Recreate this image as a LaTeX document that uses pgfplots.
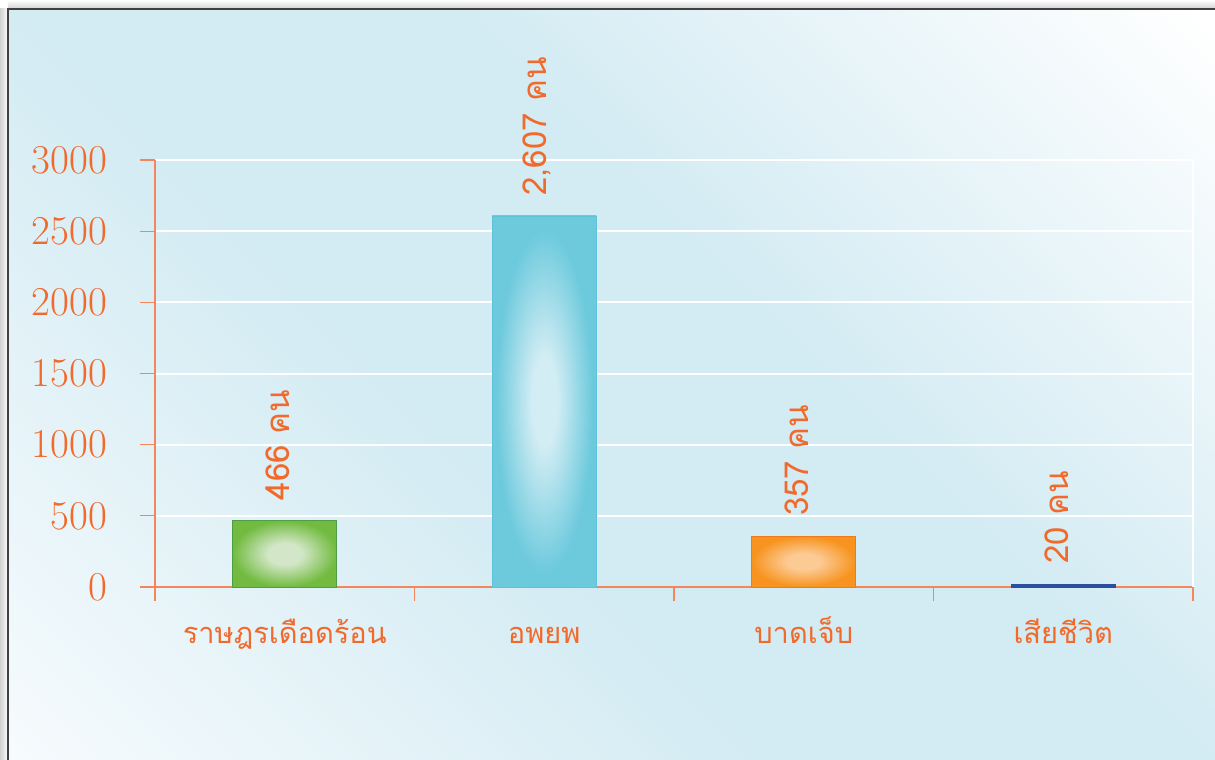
\documentclass[border=0pt]{standalone}
\usepackage{fontspec}
\usepackage{pgfplots}
\pgfplotsset{compat=1.18}
\newfontfamily\thaifont[Script=Thai]{Loma}
\definecolor{labcol}{HTML}{F26A2B}
\definecolor{axcol}{HTML}{F3875B}
\definecolor{bgblue}{HTML}{D3EBF3}
\definecolor{bgwhite}{HTML}{F6FBFD}
\definecolor{gedge}{HTML}{72BB40}
\definecolor{gcen}{HTML}{D3E7C8}
\definecolor{gbord}{HTML}{4E9E48}
\definecolor{bedge}{HTML}{6DCADD}
\definecolor{bcen}{HTML}{D3EDF4}
\definecolor{bbord}{HTML}{5CC3DA}
\definecolor{oedge}{HTML}{F7931E}
\definecolor{ocen}{HTML}{FCCA93}
\definecolor{obord}{HTML}{EE7A1B}
\definecolor{dblue}{HTML}{2C4E9E}
\pgfdeclareverticalshading{bgshade}{100bp}{color(0bp)=(bgwhite); color(15bp)=(bgwhite); color(42bp)=(bgblue); color(58bp)=(bgblue); color(85bp)=(white); color(100bp)=(white)}
\pgfdeclareradialshading{gsh}{\pgfpointorigin}{color(0bp)=(gcen); color(8bp)=(gcen); color(25bp)=(gedge); color(50bp)=(gedge)}
\pgfdeclareradialshading{bsh}{\pgfpointorigin}{color(0bp)=(bcen); color(6bp)=(bcen); color(23bp)=(bedge); color(50bp)=(bedge)}
\pgfdeclareradialshading{osh}{\pgfpointorigin}{color(0bp)=(ocen); color(8bp)=(ocen); color(25bp)=(oedge); color(50bp)=(oedge)}
\begin{document}
\begin{tikzpicture}
% background
\fill[white] (-77.5pt,-86.5pt) rectangle (530pt,293.5pt);
\shade[left color=black!18, right color=white] (-77.5pt,-86.5pt) rectangle (-73.5pt,289pt);
\shade[bottom color=black!18, top color=white] (-73.5pt,289pt) rectangle (530pt,293.5pt);
\shade[shading=bgshade, shading angle=-45] (-73.5pt,-86.5pt) rectangle (530pt,289pt);
\draw[line width=1.1pt, black!75] (-73.5pt,-90pt) -- (-73.5pt,289pt) -- (535pt,289pt);
\begin{axis}[
  at={(0,0)}, anchor=south west,
  width=519pt, height=213.5pt, scale only axis,
  xmin=-0.5, xmax=3.5, ymin=0, ymax=3000,
  axis lines=left,
  axis line style={axcol, line width=0.6pt, -},
  ytick={0,500,...,3000},
  xtick={0,1,2,3},
  xticklabels={ราษฎรเดือดร้อน, อพยพ, บาดเจ็บ, เสียชีวิต},
  minor xtick={-0.5,0.5,1.5,2.5,3.5},
  tick align=outside,
  major tick length=7.5pt, minor tick length=7pt,
  tick style={axcol, line width=0.6pt},
  major x tick style={draw=none},
  ymajorgrids, grid style={white, line width=1pt},
  scaled y ticks=false,
  /pgf/number format/assume math mode=true,
  yticklabel style={font=\fontsize{20.5}{20.5}\selectfont, text=labcol, /pgf/number format/1000 sep={}, xshift=-13pt},
  xticklabel style={font=\thaifont\fontsize{14.5}{14.5}\selectfont, text=labcol, anchor=base, yshift=-20.5pt},
  every node near coord/.append style={rotate=90, anchor=west, font=\thaifont\fontsize{16.5}{16.5}\selectfont, text=labcol, inner xsep=10pt, yshift=3.5pt},
  clip=false,
]
\draw[white, line width=1pt] (rel axis cs:1,0) -- (rel axis cs:1,1);
\addplot[ybar, bar width=52pt, bar shift=0pt, draw=gbord, shade, shading=gsh, nodes near coords={466 คน}] coordinates {(0,466)};
\addplot[ybar, bar width=52pt, bar shift=0pt, draw=bbord, shade, shading=bsh, nodes near coords={2,607 คน}] coordinates {(1,2607)};
\addplot[ybar, bar width=52pt, bar shift=0pt, draw=obord, shade, shading=osh, nodes near coords={357 คน}] coordinates {(2,357)};
\addplot[ybar, bar width=52pt, bar shift=0pt, draw=dblue, fill=dblue, nodes near coords={20 คน}] coordinates {(3,20)};
\end{axis}
\pgfresetboundingbox
\useasboundingbox (-77.5pt,-86.5pt) rectangle (530pt,293.5pt);
\end{tikzpicture}
\end{document}
